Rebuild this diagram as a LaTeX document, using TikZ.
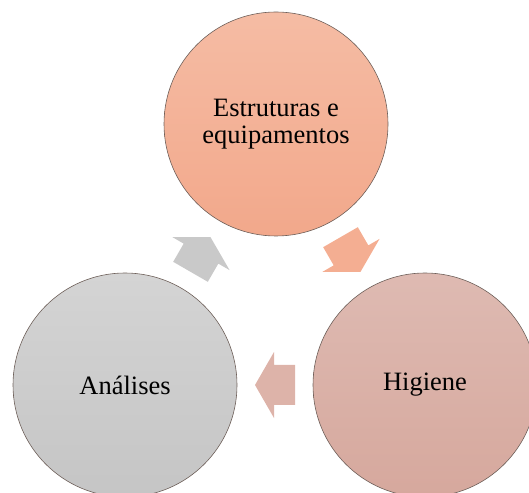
\documentclass[tikz,border=0pt]{standalone}
\usepackage{fontspec}
\setmainfont{Liberation Serif}
\usetikzlibrary{calc}
\definecolor{rimcol}{HTML}{6E605A}
\definecolor{estrtop}{HTML}{F5BCA4}
\definecolor{estrbot}{HTML}{F2A88B}
\definecolor{higtop}{HTML}{DEBAB2}
\definecolor{higbot}{HTML}{D6A89D}
\definecolor{analtop}{HTML}{D4D4D4}
\definecolor{analbot}{HTML}{C5C5C5}
\definecolor{arrorange}{HTML}{F4AE92}
\definecolor{arrpink}{HTML}{DDB3A9}
\definecolor{arrgray}{HTML}{C9C9C9}
\begin{document}
\begin{tikzpicture}[x=1pt,y=1pt,
    bubble/.style={circle,draw=rimcol,line width=0.6pt,minimum size=224pt,inner sep=0pt,
        align=center,font=\fontsize{26.5}{27.5}\selectfont}]
    \useasboundingbox (0,0) rectangle (529,492);
    \node[bubble,top color=estrtop,bottom color=estrbot] (estr) at (276,368) {Estruturas e\\equipamentos};
    \node[bubble,top color=higtop,bottom color=higbot] (hig) at (425,107) {Higiene};
    \node[bubble,top color=analtop,bottom color=analbot] (anal) at (125,107) {Análises};
    % arrows of the cycle
    \fill[arrorange,shift={($(estr)!0.5!(hig)$)},rotate=-60] (-20,-20) -- (1,-20) -- (1,-33) -- (20,0) -- (1,33) -- (1,20) -- (-20,20) -- cycle;
    \fill[arrpink,shift={($(hig)!0.5!(anal)$)},rotate=180] (-20,-20) -- (1,-20) -- (1,-33) -- (20,0) -- (1,33) -- (1,20) -- (-20,20) -- cycle;
    \fill[arrgray,shift={($(anal)!0.5!(estr)$)},rotate=60] (-20,-20) -- (1,-20) -- (1,-33) -- (20,0) -- (1,33) -- (1,20) -- (-20,20) -- cycle;
\end{tikzpicture}
\end{document}
